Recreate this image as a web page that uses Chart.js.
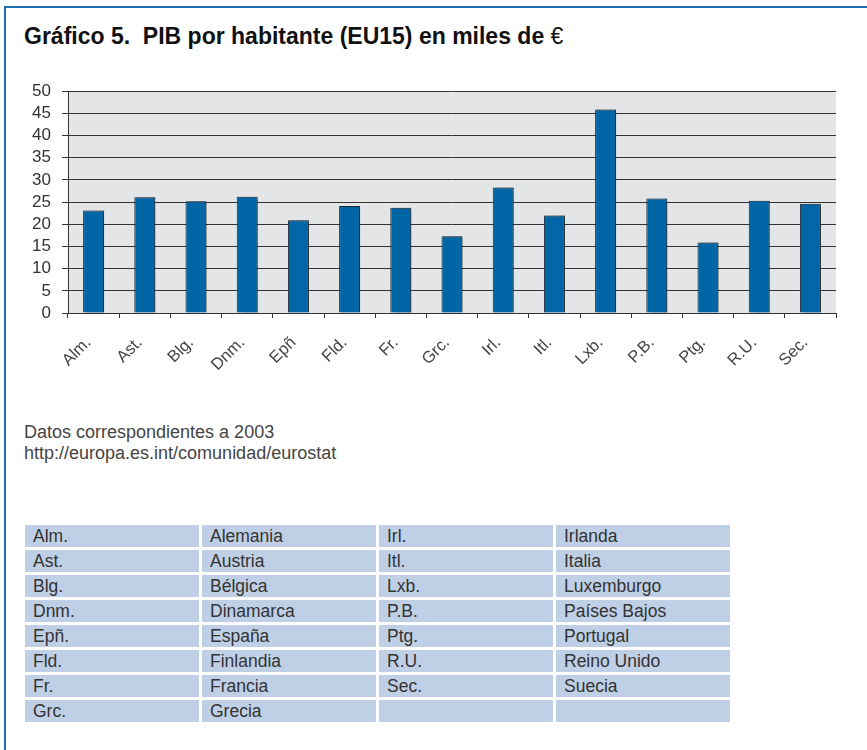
<!DOCTYPE html>
<html>
<head>
<meta charset="utf-8">
<script src="https://cdn.jsdelivr.net/npm/chart.js@4"></script>
<style>
  body { margin: 0; background: #fff; font-family: "Liberation Sans", Arial, sans-serif; }
  #frame { position: absolute; left: 4px; top: 6px; width: 900px; height: 800px;
           border-top: 2px solid #1f6db3; border-left: 2px solid #1f6db3; }
  #title { position: absolute; left: 24px; top: 23px; font-size: 23px; font-weight: bold;
           color: #111; white-space: pre; letter-spacing: 0px; }
  #title span { font-weight: normal; }
  #wrap { position: absolute; left: 0; top: 70px; width: 867px; height: 345px; }
  #note { position: absolute; left: 24px; top: 422px; font-size: 18px; color: #444; line-height: 21px; }
  #legend { position: absolute; left: 22px; top: 522px; border-collapse: separate; border-spacing: 3px 3px; }
  #legend td { background: #bfcfe5; height: 22px; width: 166px; padding: 0 0 0 8px;
               font-size: 17.5px; color: #333; }
</style>
</head>
<body>
<div id="frame"></div>
<div id="title">Gráfico 5.  PIB por habitante (EU15) en miles de <span>€</span></div>
<div id="wrap"><canvas id="myChart"></canvas></div>
<div id="note">Datos correspondientes a 2003<br>http://europa.es.int/comunidad/eurostat</div>
<table id="legend"></table>
<script>
const paises = ['Alm.', 'Ast.', 'Blg.', 'Dnm.', 'Epñ', 'Fld.', 'Fr.', 'Grc.', 'Irl.', 'Itl.', 'Lxb.', 'P.B.', 'Ptg.', 'R.U.', 'Sec.']
const pibHabitante = [23.1, 26.1, 25.2, 26.2, 20.9, 24.1, 23.7, 17.3, 28.3, 22.0, 45.9, 25.8, 15.9, 25.3, 24.6]

const abreviaturas = ['Alm.', 'Ast.', 'Blg.', 'Dnm.', 'Epñ.', 'Fld.', 'Fr.', 'Grc.', 'Irl.', 'Itl.', 'Lxb.', 'P.B.', 'Ptg.', 'R.U.', 'Sec.']
const nombres = ['Alemania', 'Austria', 'Bélgica', 'Dinamarca', 'España', 'Finlandia', 'Francia', 'Grecia',
    'Irlanda', 'Italia', 'Luxemburgo', 'Países Bajos', 'Portugal', 'Reino Unido', 'Suecia']

// tabla de abreviaturas, 8 filas
const tabla = document.getElementById('legend')
for (let i = 0; i < 8; i++) {
    const j = i + 8
    const tr = document.createElement('tr')
    const celdas = [abreviaturas[i], nombres[i], abreviaturas[j] || '', nombres[j] || '']
    celdas.forEach(function (t) {
        const td = document.createElement('td')
        td.textContent = t
        tr.appendChild(td)
    })
    tabla.appendChild(tr)
}

// fondo gris del area del grafico
const fondo = {
    id: 'fondo',
    beforeDraw(chart) {
        const a = chart.chartArea
        const ctx = chart.ctx
        ctx.save()
        ctx.fillStyle = '#e4e5e7'
        ctx.fillRect(a.left, a.top, a.right - a.left, a.bottom - a.top)
        ctx.restore()
    },
    beforeDatasetDraw(chart) {
        const ctx = chart.ctx
        ctx.save()
        ctx.shadowColor = 'rgba(0,0,0,0.35)'
        ctx.shadowOffsetX = 2
        ctx.shadowOffsetY = 0
        ctx.shadowBlur = 1
    },
    afterDatasetDraw(chart) {
        chart.ctx.restore()
    }
}

const ctx = document.getElementById('myChart')
const config = {
    type: 'bar',
    data: {
        labels: paises,
        datasets: [{
            data: pibHabitante,
            backgroundColor: '#0066a6',
            borderColor: '#1b2a38',
            borderWidth: 1,
            barPercentage: 0.41,
            categoryPercentage: 1
        }]
    },
    options: {
        responsive: true,
        maintainAspectRatio: false,
        animation: false,
        layout: { padding: { left: 0, top: 21, right: 31, bottom: 0 } },
        plugins: {
            legend: { display: false },
            tooltip: { enabled: false }
        },
        scales: {
            x: {
                afterFit(scale) { scale.height = 345 - 21 - 222 },
                grid: {
                    drawOnChartArea: false,
                    drawTicks: true,
                    tickLength: 5,
                    color: '#333'
                },
                border: { color: '#333' },
                ticks: {
                    maxRotation: 45,
                    minRotation: 45,
                    autoSkip: false,
                    padding: 15,
                    labelOffset: -5,
                    color: '#444',
                    font: { family: 'Liberation Sans', size: 16.5 }
                }
            },
            y: {
                min: 0,
                max: 50,
                afterFit(scale) { scale.width = 68 },
                grid: {
                    color: '#333',
                    tickLength: 6
                },
                border: { color: '#333' },
                ticks: {
                    stepSize: 5,
                    autoSkip: false,
                    padding: 11,
                    color: '#333',
                    font: { family: 'Liberation Sans', size: 17 }
                }
            }
        }
    },
    plugins: [fondo]
}

const myChart = new Chart(ctx, config)
</script>
</body>
</html>
